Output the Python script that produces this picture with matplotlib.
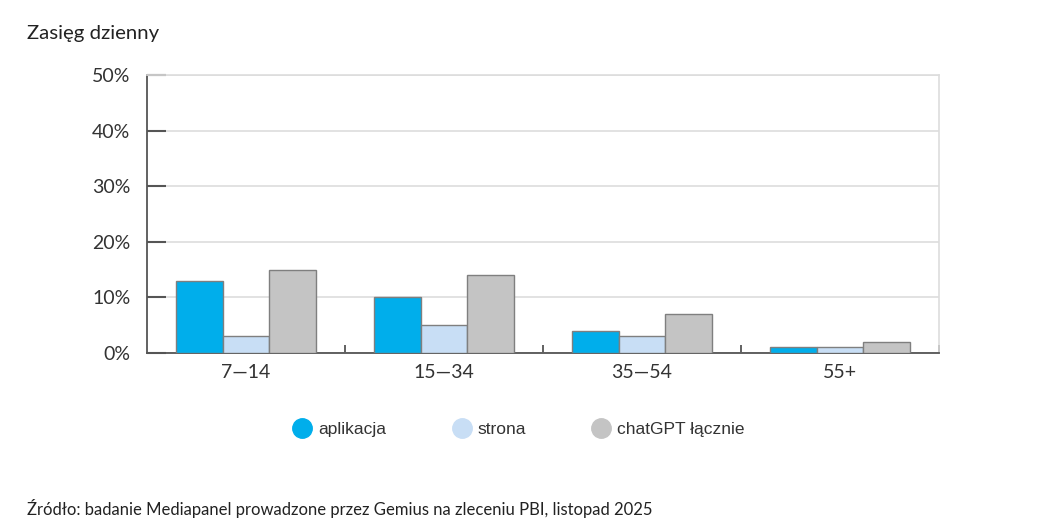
import matplotlib
matplotlib.use("Agg")
import matplotlib.pyplot as plt
import numpy as np
from matplotlib.lines import Line2D

categories = ["7—14", "15—34", "35—54", "55+"]
series_names = ["aplikacja", "strona", "chatGPT łącznie"]
aplikacja = [13, 10, 4, 1]
strona = [3, 5, 3, 1]
lacznie = [15, 14, 7, 2]
yticks = [0, 10, 20, 30, 40, 50]
ytick_labels = ["0%", "10%", "20%", "30%", "40%", "50%"]

colors = ["#00AEEB", "#C8DEF5", "#C4C4C4"]
edge = "#7F7F7F"
font_main = ["Lato", "DejaVu Sans"]

fig = plt.figure(figsize=(10.44, 5.31), dpi=100)
ax = fig.add_axes([147/1044, 1-353/531, (939-147)/1044, (353-75)/531])

x = np.arange(len(categories))
w = 0.235
for i, (vals, c) in enumerate(zip([aplikacja, strona, lacznie], colors)):
    ax.bar(x + (i-1)*w, vals, width=w, color=c, edgecolor=edge, linewidth=1.0, zorder=3)

ax.set_xlim(-0.5, len(categories)-0.5)
ax.set_ylim(0, 50)
ax.set_yticks(yticks)
ax.set_yticklabels(ytick_labels, fontfamily=font_main, fontsize=14, color="#333333")
ax.set_xticks(x)
ax.set_xticklabels(categories, fontfamily=font_main, fontsize=14, color="#333333")
ax.tick_params(axis="x", which="major", length=0, pad=8)
ax.set_xticks(np.arange(0.5, len(categories), 1.0), minor=True)
ax.tick_params(axis="x", which="minor", direction="in", length=6, width=1.3, color="#555555")
ax.tick_params(axis="y", which="major", direction="in", length=13.5, width=1.5, color="#555555", pad=12)

ax.grid(axis="y", color="#DDDDDD", linewidth=1.2, zorder=0)
ax.set_axisbelow(True)
for s in ["left", "bottom"]:
    ax.spines[s].set_color("#555555")
    ax.spines[s].set_linewidth(1.3)
for s in ["right", "top"]:
    ax.spines[s].set_color("#DDDDDD")
    ax.spines[s].set_linewidth(1.2)

fig.text(27/1044, 1-33/531, "Zasięg dzienny", fontfamily=font_main, fontsize=14.7,
         color="#222222", va="center", ha="left")
fig.text(27/1044, 1-508/531, "Źródło: badanie Mediapanel prowadzone przez Gemius na zleceniu PBI, listopad 2025",
         fontfamily=font_main, fontsize=12, color="#222222", va="center", ha="left")

handles = [Line2D([0], [0], marker="o", linestyle="none", markersize=14,
                  markerfacecolor=c, markeredgecolor=c) for c in colors]
fig.legend(handles, series_names, loc="center", bbox_to_anchor=(519/1044, 1-429/531),
           ncol=3, frameon=False, columnspacing=3.85, handlelength=1.0, handletextpad=0.4,
           prop={"family": ["Liberation Sans", "DejaVu Sans"], "size": 12.5},
           labelcolor="#333333")

fig.savefig("out.png", dpi=100, facecolor="white")
